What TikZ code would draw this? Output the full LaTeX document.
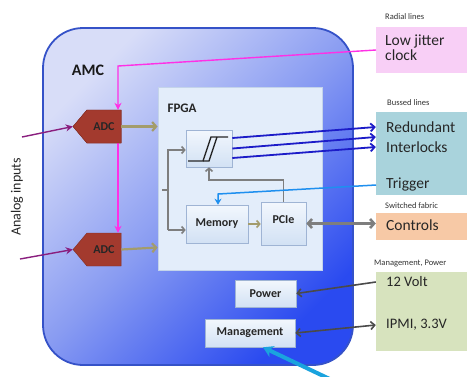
\documentclass[tikz,border=0pt]{standalone}
\usepackage{fontspec}
\setmainfont{Carlito}
\usetikzlibrary{arrows.meta,shapes.symbols}
\definecolor{amcdark}{HTML}{2A4AF0}
\definecolor{amcmid}{HTML}{889BF2}
\definecolor{amclight}{HTML}{D8DDF8}
\definecolor{amcedge}{HTML}{3552C8}
\definecolor{fpgafill}{HTML}{E3EDFA}
\definecolor{fpgaedge}{HTML}{C4D4EA}
\definecolor{boxtop}{HTML}{F2F7FD}
\definecolor{boxbot}{HTML}{D2E1F4}
\definecolor{boxedge}{HTML}{9FB4D4}
\definecolor{adcfill}{HTML}{A33A2E}
\definecolor{magline}{HTML}{FF30E6}
\definecolor{purpline}{HTML}{8A1E7E}
\definecolor{oliveline}{HTML}{A39C6C}
\definecolor{grayline}{HTML}{7E7E7E}
\definecolor{darkgray}{HTML}{4A4A4A}
\definecolor{trigline}{HTML}{1E8FEF}
\definecolor{busline}{HTML}{1C1CC8}
\definecolor{cyanline}{HTML}{1AA3DE}
\definecolor{clockfill}{HTML}{F8CFF6}
\definecolor{busfill}{HTML}{A9D3DC}
\definecolor{ctrlfill}{HTML}{F7C9A6}
\definecolor{mpfill}{HTML}{D7E3BE}
\tikzset{
  innerbox/.style={draw=boxedge, line width=0.6pt, top color=boxtop, bottom color=boxbot, font=\bfseries\fontsize{12}{13}\selectfont, text=black!85, inner sep=0pt},
  adcbox/.style={shape=signal, signal to=west, signal pointer angle=100, fill=adcfill, draw=adcfill!80!black, line width=0.4pt, font=\bfseries\fontsize{12}{13}\selectfont, text=black!85, minimum width=48pt, minimum height=33pt, inner sep=0pt},
  sidebox/.style={minimum width=91pt, inner sep=0pt},
  sidetext/.style={anchor=west, font=\fontsize{15.5}{16}\selectfont, text=black!85, inner sep=0pt},
  smalllabel/.style={font=\fontsize{8.5}{9}\selectfont, text=black!80, inner sep=0pt},
  mag/.style={draw=magline, line width=1.4pt, -{Stealth[length=7pt,width=7pt]}},
  purp/.style={draw=purpline, line width=1.4pt, -{Stealth[length=7pt,width=7pt]}},
  oliv/.style={draw=oliveline, line width=2.2pt, -{Straight Barb[length=4pt,width=9pt]}},
  gr/.style={draw=grayline, line width=1.6pt},
  grarrow/.style={gr, -{Straight Barb[length=3pt,width=7pt]}},
  bus/.style={draw=busline, line width=1.8pt, -{Straight Barb[length=4pt,width=8pt]}},
  trig/.style={draw=trigline, line width=1.5pt},
  darr/.style={draw=darkgray, line width=1.6pt, {Straight Barb[length=4pt,width=8pt]}-{Straight Barb[length=4pt,width=8pt]}},
  sarr/.style={draw=darkgray, line width=1.6pt, -{Straight Barb[length=4pt,width=8pt]}},
}
\begin{document}
\begin{tikzpicture}[x=1pt,y=-1pt]
\useasboundingbox[fill=white] (0,0) rectangle (471,376);
% AMC board
\node[draw=amcedge, line width=1.8pt, rounded corners=40pt, minimum width=310pt, minimum height=337pt,
      top color=amclight, bottom color=amcdark, middle color=amcmid, shading angle=45, inner sep=0pt] (amc) at (198,196.5) {};
\node[font=\bfseries\fontsize{16}{17}\selectfont, text=black!90] (amclabel) at (88,70) {AMC};
% FPGA
\node[draw=fpgaedge, line width=0.8pt, fill=fpgafill, minimum width=164pt, minimum height=183pt, inner sep=0pt] (fpga) at (240,178.5) {};
\node[font=\bfseries\fontsize{13}{14}\selectfont, text=black!85, anchor=west] (fpgalabel) at (164,108) {FPGA};
% inner boxes
\node[innerbox, minimum width=46pt, minimum height=37pt] (cmp) at (209,148.5) {};
\draw[line width=1.3pt, black!85] (188,161) -- (203,161) -- (211,137) -- (228,137);
\draw[line width=1.3pt, black!85] (203,161) -- (209,161) -- (217,137);
\node[innerbox, minimum width=62pt, minimum height=38pt] (mem) at (217,224) {Memory};
\node[innerbox, minimum width=45pt, minimum height=43pt, text depth=8pt] (pcie) at (283.5,223.5) {PCIe};
\node[innerbox, minimum width=61pt, minimum height=27pt] (power) at (265.5,293.5) {Power};
\node[innerbox, minimum width=90pt, minimum height=28pt] (mgmt) at (250,333) {Management};
% ADCs
\node[adcbox] (adc1) at (104,126.5) {ADC};
\node[adcbox] (adc2) at (104,249.5) {ADC};
% right-side boxes
\node[smalllabel, anchor=west] (radial) at (385,17) {Radial lines};
\node[sidebox, fill=clockfill, minimum height=46pt] (clock) at (421.5,50) {};
\node[sidetext] (clocktext) at (385,50) {\begin{tabular}{@{}l@{}}Low jitter\\[-1pt] clock\end{tabular}};
\node[smalllabel, anchor=west] (bussed) at (387,103) {Bussed lines};
\node[sidebox, fill=busfill, minimum height=83pt] (busbox) at (421.5,153.5) {};
\node[sidetext] (redund) at (386,127) {Redundant};
\node[sidetext] (interl) at (386,147) {Interlocks};
\node[sidetext] (trigger) at (386,184) {Trigger};
\node[smalllabel, anchor=west] (switched) at (385,206) {Switched fabric};
\node[sidebox, fill=ctrlfill, minimum height=27pt] (ctrl) at (421.5,226.5) {};
\node[sidetext] (ctrltext) at (386,225) {Controls};
\node[smalllabel, anchor=west] (mplabel) at (374,263) {Management, Power};
\node[sidebox, fill=mpfill, minimum height=79pt] (mp) at (421.5,311) {};
\node[sidetext, font=\fontsize{14.5}{15}\selectfont] (volt) at (386,282) {12 Volt};
\node[sidetext, font=\fontsize{14.5}{15}\selectfont] (ipmi) at (386,325) {IPMI, 3.3V};
% Analog inputs
\node[rotate=90, font=\fontsize{14}{15}\selectfont, text=black!85] (analog) at (17,197) {Analog inputs};
\coordinate (ai1) at (22,137);
\coordinate (ai2) at (20,259);
\draw[purp] (ai1) -- (adc1.west);
\draw[purp] (ai2) -- (adc2.west);
% clock distribution
\coordinate (mk) at (118,66);
\coordinate (ck) at (376,50);
\draw[mag] (ck) -- (mk) -- (mk |- adc1.north);
\draw[mag] (mk |- adc1.south) -- (mk |- adc2.north);
\node[adcbox] at (adc1) {ADC};
% ADC -> FPGA
\draw[oliv] (adc1.east) -- (fpga.west |- adc1.east);
\draw[oliv] (adc2.east) -- ([yshift=2pt]fpga.west |- adc2.east);
% gray distribution inside FPGA
\coordinate (gv1) at (168,150);
\coordinate (gv2) at (168,230);
\coordinate (gst) at (162,190);
\draw[grarrow] (gv2) -- (gv1) -- (cmp.west |- gv1);
\draw[grarrow] (gv2) -- (mem.west |- gv2);
\draw[gr] (gst) -- (gst -| gv1);
\coordinate (gk) at (0,180);
\draw[grarrow] (pcie.north) -- (pcie.north |- gk) -| (cmp.south);
% trigger
\coordinate (tg) at (376,185);
\coordinate (tk) at (218,194);
\draw[trig, -{Stealth[length=6pt,width=7pt]}] (tg) -- (tk) -- (tk |- mem.north);
% memory -> PCIe
\draw[oliv, line width=1.6pt, -{Straight Barb[length=3pt,width=7pt]}] (mem.east) -- (pcie.west |- mem.east);
% bussed lines
\draw[bus] ([yshift=10.5pt]cmp.east) -- ([yshift=26.5pt]busbox.west);
\draw[bus] (cmp.east) -- ([yshift=16.5pt]busbox.west);
\draw[bus] ([yshift=-9.5pt]cmp.east) -- ([yshift=6.5pt]busbox.west);
% controls
\draw[draw=grayline, line width=2.6pt, {Straight Barb[length=4pt,width=9pt]}-{Straight Barb[length=4pt,width=9pt]}] (pcie.east) -- ([yshift=3pt]ctrl.west);
% power and management
\draw[sarr] ([yshift=29pt]mp.west) -- (power.east);
\draw[darr] (mgmt.east) -- ([yshift=-14pt]mp.west);
% cyan arrow
\coordinate (cy) at (336,382);
\draw[draw=cyanline, line width=4pt, -{Stealth[length=10pt,width=12pt]}] (cy) -- ([xshift=13pt]mgmt.south);
\end{tikzpicture}
\end{document}
